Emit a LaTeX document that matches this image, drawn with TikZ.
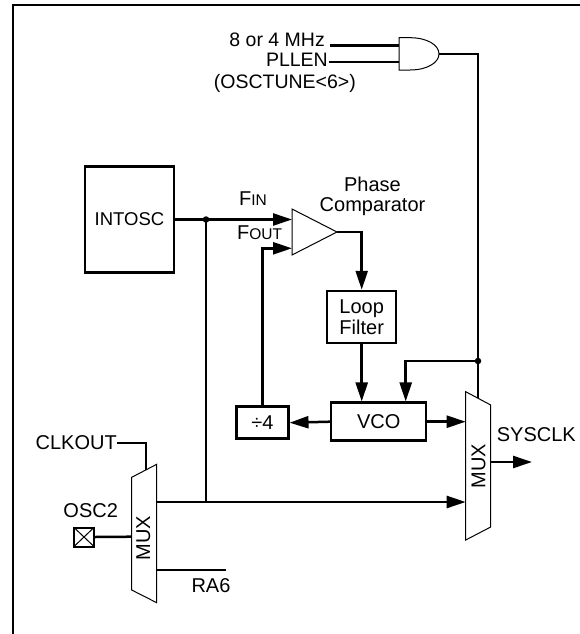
\documentclass[tikz,border=0pt]{standalone}
\usepackage{fontspec}
\setmainfont{Liberation Sans}
\usetikzlibrary{arrows.meta,calc}
\begin{document}
\begin{tikzpicture}[x=1pt,y=-1pt,
  font=\fontsize{20}{22}\selectfont,
  wire/.style={line width=2.5pt},
  arr/.style={wire,-{Triangle[length=19pt,width=12pt]}},
  blk/.style={draw,line width=2.5pt,inner sep=0pt},
  thinline/.style={line width=1pt},
  lbl/.style={inner sep=0pt},
  jdot/.style={circle,fill,inner sep=0pt,minimum size=6.5pt},
  topfont/.style={font=\fontsize{19.5}{21}\selectfont}]
\useasboundingbox (0,0) rectangle (580,634);
% frame
\draw[line width=2.2pt] (580,5.2) -- (12.7,5.2) -- (12.7,634);

% blocks
\node[blk,minimum width=89pt,minimum height=106pt,font=\fontsize{18.5}{20}\selectfont] (intosc) at (129.5,219.5) {INTOSC};
\node[blk,minimum width=69pt,minimum height=52pt,align=center,font=\fontsize{20}{21.5}\selectfont] (lf) at (361.7,317) {Loop\\Filter};
\node[blk,minimum width=95pt,minimum height=38pt] (vco) at (378.7,421.7) {VCO};
\node[blk,minimum width=51.6pt,minimum height=32pt] (div) at (262.5,422.7) {÷4};

% comparator
\coordinate (cmpA) at (292,209);
\coordinate (cmpB) at (292,255);
\coordinate (cmpT) at (337,232);
\draw[thinline] (cmpA) -- (cmpT) -- (cmpB) -- cycle;
\coordinate (fin) at (292,219.5);
\coordinate (fout) at (292,248.3);
\node[lbl,anchor=base west] (tfin) at (239,205) {\fontsize{20}{20}\selectfont F\fontsize{15.5}{20}\selectfont IN};
\node[lbl,anchor=base west] (tfout) at (237,239.3) {\fontsize{20}{20}\selectfont F\fontsize{15.5}{20}\selectfont OUT};
\node[lbl,anchor=base] (tphase) at (372.5,191) {Phase};
\node[lbl,anchor=base] (tcomp) at (372.5,211.5) {Comparator};

% AND gate
\coordinate (gin1) at (399,45.7);
\coordinate (gin2) at (399,62);
\coordinate (gout) at (439,53.85);
\draw[thinline] (410,37.7) .. controls (427,37.7) and (439,45) .. (gout)
  .. controls (439,62.7) and (427,70) .. (410,70) -- (399,70) -- (399,37.7) -- cycle;
\node[lbl,anchor=base east,topfont] (t8) at (325,46.5) {8 or 4 MHz};
\node[lbl,anchor=base east,topfont] (tpll) at (328,66.5) {PLLEN};
\node[lbl,anchor=base east,topfont] (tosct) at (356,88.5) {(OSCTUNE<6>)};
\draw[wire] ($(t8.east |- gin1)+(5,0)$) -- (gin1);
\draw[wire] ($(tpll.east |- gin2)+(1,0)$) -- (gin2);

% right MUX
\coordinate (rmA) at (465.7,391.7);
\coordinate (rmB) at (490.7,405);
\coordinate (rmC) at (490.7,527);
\coordinate (rmD) at (465.7,540);
\draw[thinline] (rmA) -- (rmB) -- (rmC) -- (rmD) -- cycle;
\node[lbl,rotate=90] (rmuxlbl) at (478.5,466) {MUX};
\coordinate (rmtop) at ($(rmA)!0.49!(rmB)$);
\coordinate (rmin1) at (465.7,421.7);
\coordinate (rmin2) at (465.7,502);
\coordinate (rmout) at (490.7,462);
\coordinate (sysend) at (532,462);
\node[lbl,anchor=west] (tsys) at (496.7,434.5) {SYSCLK};

% left MUX
\coordinate (lmA) at (131.7,477.3);
\coordinate (lmB) at (156.7,464.3);
\coordinate (lmC) at (156.7,602.7);
\coordinate (lmD) at (131.7,590);
\draw[thinline] (lmA) -- (lmB) -- (lmC) -- (lmD) -- cycle;
\node[lbl,rotate=90] (lmuxlbl) at (143.3,538.3) {MUX};
\coordinate (clkin) at ($(lmA)!0.57!(lmB)$);
\coordinate (lmout) at (156.7,502);
\coordinate (lmin) at (131.7,536.7);
\coordinate (ra6a) at (156.7,570);
\coordinate (ra6b) at (225.7,570);
\node[lbl,anchor=east] (tclk) at (117,443) {CLKOUT};
\node[lbl] (tosc2) at (90.7,510.7) {OSC2};
\node[lbl] (tra6) at (211,586) {RA6};
\node[draw,line width=2pt,minimum width=20pt,minimum height=19pt,inner sep=0pt,
  path picture={\draw[line width=1pt] (path picture bounding box.north west) -- (path picture bounding box.south east)
   (path picture bounding box.north east) -- (path picture bounding box.south west);}] (pin) at (84,537) {};

% junctions
\coordinate (j1) at (206,219.5);
\coordinate (j1b) at (206,502);
\coordinate (j2) at (478,361);

% wires
\draw[arr] (intosc.east) -- (fin);
\draw[wire] (j1) -- (j1b);
\draw[arr] (lmout) -- (rmin2);
\draw[arr] (div.north) |- (fout);
\draw[arr] (cmpT) -| (lf.north);
\draw[arr] (lf.south) -- (lf.south |- vco.north);
\draw[arr] (vco.west) -- (div.east);
\draw[arr] (vco.east) -- (rmin1);
\draw[wire] (gout) -| (rmtop);
\draw[arr] (j2) -| ([xshift=27pt]vco.north);
\draw[arr] (rmout) -- (sysend);
\draw[wire] (tclk.east) -| (clkin);
\draw[wire] (pin.east) -- (lmin);
\draw[wire] (ra6a) -- (ra6b);
\node[jdot] at (j1) {};
\node[jdot] at (j2) {};
\end{tikzpicture}
\end{document}
